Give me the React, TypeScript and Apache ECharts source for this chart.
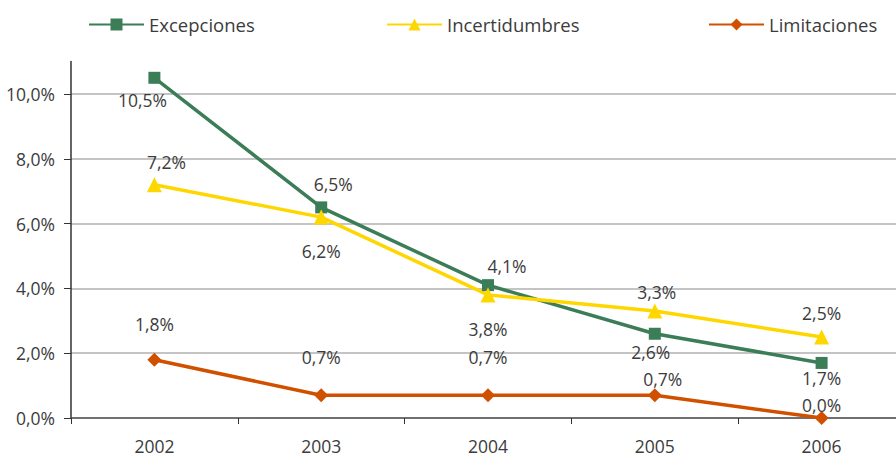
import React, { useEffect, useRef } from "react";
import * as echarts from "echarts";

const years = ["2002", "2003", "2004", "2005", "2006"];
const excepciones = [10.5, 6.5, 4.1, 2.6, 1.7];
const incertidumbres = [7.2, 6.2, 3.8, 3.3, 2.5];
const limitaciones = [1.8, 0.7, 0.7, 0.7, 0.0];
const seriesNames = ["Excepciones", "Incertidumbres", "Limitaciones"];

// label offsets (style only)
const excOffsets = [[-12, 22], [12, -23], [19, -19], [-4, 18], [0, 15]];
const incOffsets = [[12, -23], [0, 34], [0, 34], [2, -19], [0, -24]];
const limOffsets = [[0, -36], [0, -38], [0, -38], [8, -16], [0, -13]];

const FONT = "'Open Sans', 'Noto Sans', sans-serif";
const TXT = "#3c3c3c";
const WEIGHT = 400;

const fmt = (v: number) => v.toFixed(1).replace(".", ",") + "%";

function buildData(values: number[], offsets: number[][]) {
  return values.map((v, i) => ({
    value: v,
    label: { offset: offsets[i] },
  }));
}

function lineSeries(name: string, values: number[], offsets: number[][], color: string, symbol: string, size: number) {
  return {
    name,
    type: "line",
    data: buildData(values, offsets),
    symbol,
    symbolSize: size,
    showAllSymbol: true,
    itemStyle: { color },
    lineStyle: { color, width: 3.5 },
    label: {
      show: true,
      position: "inside",
      align: "center",
      verticalAlign: "middle",
      fontFamily: FONT,
      fontSize: 17.5,
      fontWeight: WEIGHT,
      color: TXT,
      textBorderWidth: 0,
      textBorderColor: "transparent",
      formatter: (p: any) => fmt(p.value),
    },
    emphasis: { disabled: true },
  };
}

export default function App() {
  const ref = useRef<HTMLDivElement>(null);
  useEffect(() => {
    if (!ref.current) return;
    const chart = echarts.init(ref.current, undefined, { renderer: "svg" });
    const legendBase = {
      top: 15,
      itemWidth: 55,
      itemHeight: 15,
      itemGap: 6,
      textStyle: { fontFamily: FONT, fontSize: 18.5, fontWeight: WEIGHT, color: TXT },
      padding: 0,
    };
    chart.setOption({
      animation: false,
      textStyle: { fontFamily: FONT },
      legend: [
        { ...legendBase, left: 88, data: [seriesNames[0]] },
        { ...legendBase, left: 386, data: [seriesNames[1]] },
        { ...legendBase, left: 708, data: [seriesNames[2]] },
      ],
      grid: {
        left: 71,
        width: 834,
        top: 61.6,
        height: 356.4,
        containLabel: false,
        outerBoundsMode: "none",
      },
      xAxis: {
        type: "category",
        data: years,
        boundaryGap: true,
        axisLine: { show: true, lineStyle: { color: "#555", width: 1.5 } },
        axisTick: { show: true, length: 6, lineStyle: { color: "#333" } },
        axisLabel: { fontFamily: FONT, fontSize: 17.5, fontWeight: WEIGHT, color: TXT, margin: 19 },
        splitLine: { show: false },
      },
      yAxis: {
        type: "value",
        min: 0,
        max: 11,
        interval: 2,
        axisLine: { show: true, lineStyle: { color: "#333", width: 1.5 } },
        axisTick: { show: true, length: 7, lineStyle: { color: "#333" } },
        axisLabel: {
          fontFamily: FONT,
          fontSize: 17.5,
          fontWeight: WEIGHT,
          color: TXT,
          margin: 16,
          showMaxLabel: false,
          formatter: (v: number) => (v > 10 ? "" : fmt(v)),
        },
        splitLine: {
          show: true,
          lineStyle: {
            color: ["#c4c4c4", "#c4c4c4", "#c4c4c4", "#c4c4c4", "#c4c4c4", "#c4c4c4", "rgba(0,0,0,0)"],
            width: 2,
          },
        },
      },
      series: [
        lineSeries(seriesNames[0], excepciones, excOffsets, "#3b7d57", "rect", 12),
        lineSeries(seriesNames[1], incertidumbres, incOffsets, "#ffd700", "triangle", 15),
        lineSeries(seriesNames[2], limitaciones, limOffsets, "#d05000", "diamond", 14),
      ],
    });
    return () => chart.dispose();
  }, []);
  return <div ref={ref} style={{ width: 896, height: 457, position: "absolute", left: 0, top: 0 }} />;
}
